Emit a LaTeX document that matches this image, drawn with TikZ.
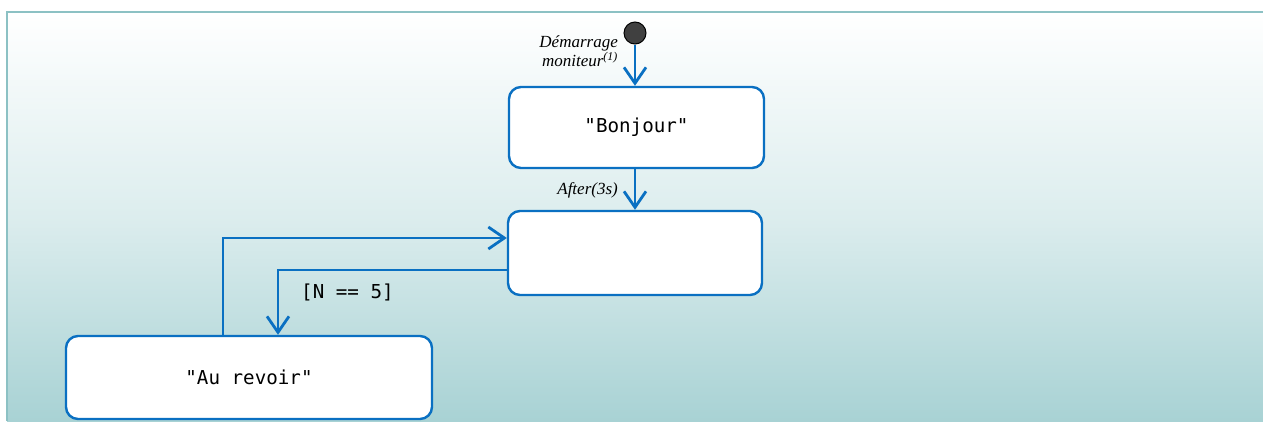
\documentclass[tikz,border=0pt]{standalone}
\usepackage{fontspec}
\setmainfont{Liberation Serif}
\setmonofont{DejaVu Sans Mono}
\usetikzlibrary{arrows.meta}
\definecolor{flowblue}{HTML}{0A70C2}
\definecolor{panelteal}{HTML}{A8D2D4}
\definecolor{panelrule}{HTML}{8CC1C4}
\definecolor{dotgray}{HTML}{404040}
\tikzset{
  codefont/.style={font=\ttfamily\fontsize{19.2}{22}\selectfont},
  statebox/.style={draw=flowblue, line width=2.4pt, rounded corners=12pt, fill=white,
    inner sep=0pt, codefont},
  flow/.style={draw=flowblue, line width=2.8pt,
    -{Straight Barb[length=16pt, width=22pt, line width=2.8pt]}},
  guard/.style={font=\itshape\fontsize{17}{17}\selectfont, inner sep=0pt, align=right},
}
\begin{document}
\begin{tikzpicture}[x=1pt, y=-1pt]
  \useasboundingbox (0,0) rectangle (1263,421);
  % panel background with gradient
  \shade[top color=white, bottom color=panelteal, middle color=panelteal!40!white]
    (7,12) rectangle (1263,421);
  \draw[panelrule, line width=2pt] (7,421) -- (7,12) -- (1263,12);

  % initial pseudo-state
  \node[circle, draw=black, fill=dotgray, line width=1pt, minimum size=22pt, inner sep=0pt]
    (start) at (635,33) {};

  % states
  \node[statebox, minimum width=255pt, minimum height=81pt] (bonjour) at (636.5,127.5) {"Bonjour"};
  \node[statebox, minimum width=254pt, minimum height=84pt] (wait) at (635,253) {};
  \node[statebox, minimum width=366pt, minimum height=83pt] (aurevoir) at (249,377.5) {"Au revoir"};

  % transitions
  \draw[flow] (start.south) -- (start.south |- bonjour.north);
  \draw[flow] (bonjour.south -| start) -- (start |- wait.north);
  \draw[flow] ([xshift=-26pt]aurevoir.north) |- ([yshift=15pt]wait.west);
  \draw[flow] ([yshift=-17pt]wait.west) -| ([xshift=29pt]aurevoir.north);

  % labels
  \node[guard, anchor=east] (lstart) at (618,51.5)
    {Démarrage\\moniteur\textsuperscript{(1)}};
  \node[guard, anchor=east] (lafter) at (618,190) {After(3s)};
  \node[codefont, inner sep=0pt, anchor=west] (lguard) at (301,292) {[N == 5]};
\end{tikzpicture}
\end{document}
